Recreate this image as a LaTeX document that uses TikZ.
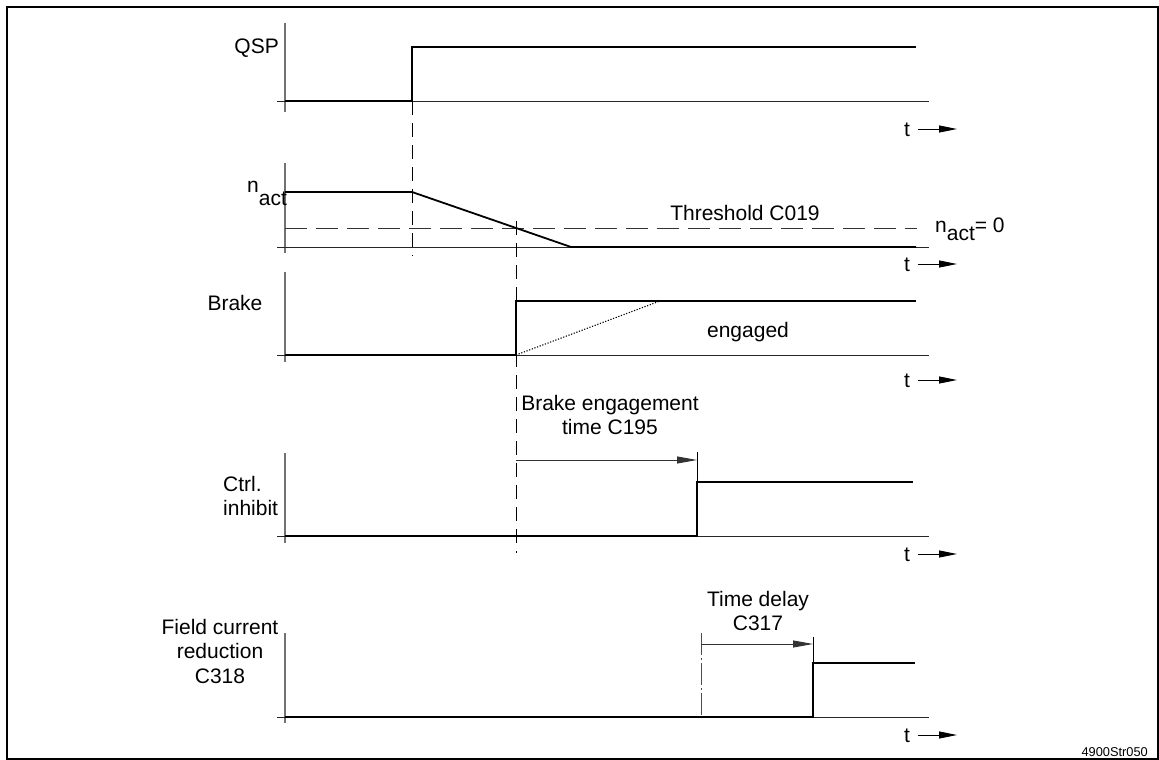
\documentclass[tikz,border=0pt]{standalone}
\usepackage{fontspec}
\setmainfont{Liberation Sans}
\usetikzlibrary{arrows.meta}
\begin{document}
\begin{tikzpicture}[x=1pt,y=-1pt,
  sig/.style={line width=1.8pt, black},
  haxis/.style={line width=0.9pt, black!85},
  vaxis/.style={line width=1.2pt, black!55},
  vdash/.style={line width=0.9pt, black, dash pattern=on 14pt off 8pt},
  thr/.style={line width=0.9pt, black!80, dash pattern=on 22pt off 9pt},
  dotline/.style={line width=1.1pt, dash pattern=on 1.2pt off 1.6pt},
  dashdotline/.style={line width=0.9pt, black!70, dash pattern=on 22pt off 3pt on 2pt off 3pt},
  tick/.style={line width=0.9pt, black},
  lbl/.style={font=\fontsize{21}{24.5}\selectfont, inner sep=0pt},
  tarr/.style={line width=0.9pt, -{Triangle[length=18pt,width=7pt]}},
  dimarr/.style={line width=0.9pt, black!80, -{Triangle[length=20pt,width=7pt]}},
]
\useasboundingbox (0,0) rectangle (1159,760);
\draw[line width=2pt] (7,7) rectangle (1158,759);

% ---------- Panel 1: QSP ----------
\draw[vaxis] (285,23) -- (285,112);
\draw[haxis] (277,101) -- (929,101);
\draw[sig] (285,101) -- (412,101) -- (412,47) -- (916,47);
\node[lbl, anchor=east] (qsp) at (279,48) {QSP};

% ---------- Panel 2: n_act ----------
\draw[vaxis] (285,163) -- (285,253);
\draw[haxis] (277,247) -- (929,247);
\draw[thr] (285,228) -- (917,228);
\draw[sig] (285,192) -- (412,192) -- (571,247) -- (916,247);
\node[lbl, anchor=base west] (nact) at (247,192) {n\raisebox{-13pt}{act}};
\node[lbl] (thrlbl) at (745,213) {Threshold C019};
\node[lbl, anchor=base west] (nactzero) at (935,232) {n\raisebox{-8pt}{act}= 0};

% ---------- vertical dashed guide lines ----------
\draw[vdash] (412,101) -- (412,256);
\draw[vdash] (516,221) -- (516,553);

% ---------- Panel 3: Brake ----------
\draw[vaxis] (285,272) -- (285,362);
\draw[haxis] (277,355) -- (929,355);
\draw[sig] (285,355) -- (516,355) -- (516,301) -- (916,301);
\draw[dotline] (516,355) -- (660,301);
\node[lbl] (brake) at (235,303) {Brake};
\node[lbl] (engaged) at (748,332) {engaged};

% ---------- Panel 4: Ctrl. inhibit ----------
\draw[vaxis] (285,453) -- (285,543);
\draw[haxis] (277,536) -- (929,536);
\draw[sig] (285,536) -- (697,536) -- (697,482) -- (913,482);
\draw[tick] (697,482) -- (697,452);
\coordinate (bs) at (516,460);
\coordinate (be) at (697,460);
\draw[dimarr] (bs) -- (be);
\node[lbl, align=center] (bet) at (610,415) {Brake engagement\\time C195};
\node[lbl, align=left, anchor=west] (ctrl) at (223,496) {Ctrl.\\inhibit};

% ---------- Panel 5: Field current reduction ----------
\draw[vaxis] (285,633) -- (285,723);
\draw[haxis] (277,717) -- (929,717);
\draw[dashdotline] (701,633) -- (701,717);
\draw[sig] (285,717) -- (813,717) -- (813,663) -- (915,663);
\draw[tick] (813,663) -- (813,637);
\coordinate (ts) at (701,644);
\coordinate (te) at (813,644);
\draw[dimarr] (ts) -- (te);
\node[lbl, align=center] (tdelay) at (758,611) {Time delay\\C317};
\node[lbl, align=center] (fcr) at (220,651) {Field current\\reduction\\C318};

% ---------- time arrows ----------
\foreach \yy/\nn in {129/a, 264/b, 380/c, 554/d, 735/e}{
  \node[lbl] (t\nn) at (907,\yy+1) {t};
  \coordinate (ta\nn) at (918,\yy);
  \coordinate (tb\nn) at (957,\yy);
  \draw[tarr] (ta\nn) -- (tb\nn);
}

\node[font=\fontsize{12.8}{14}\selectfont, inner sep=0pt, anchor=east] (figid) at (1148,752) {4900Str050};
\end{tikzpicture}
\end{document}
